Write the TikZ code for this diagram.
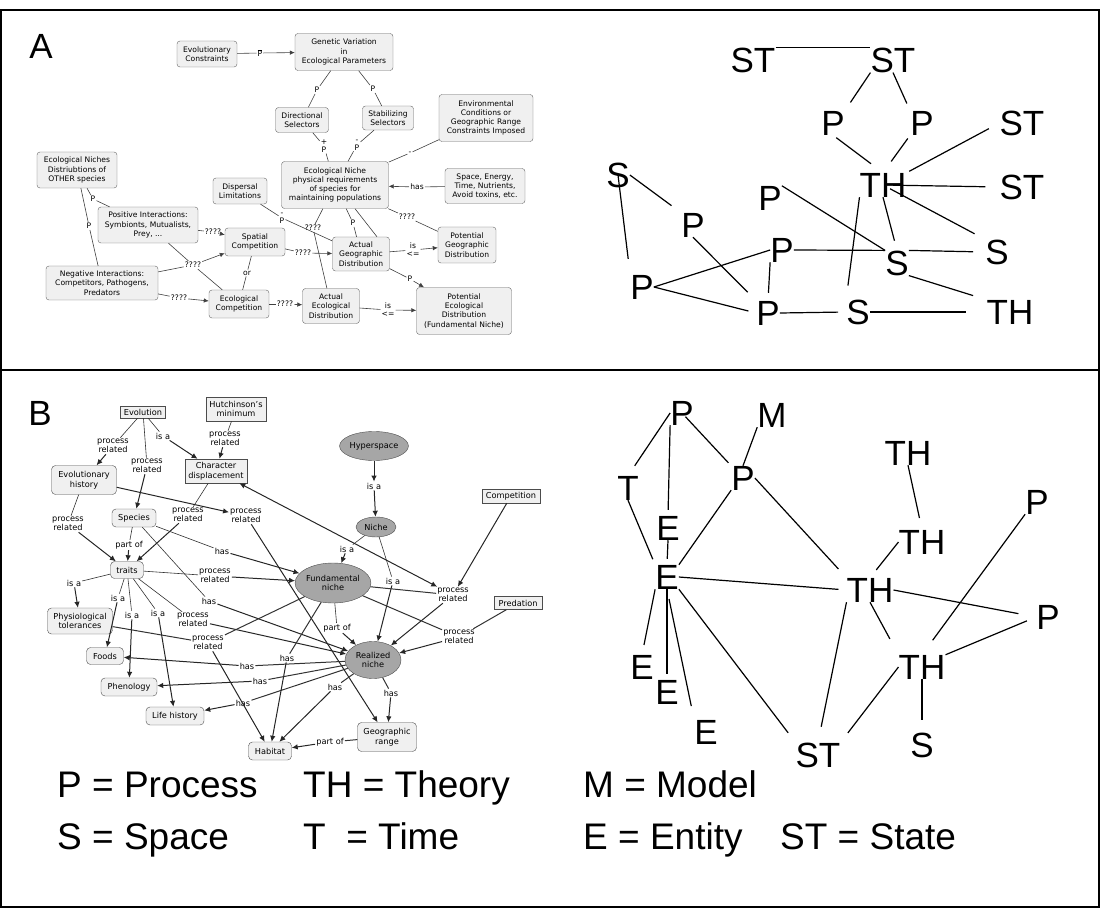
\documentclass[tikz,border=0pt]{standalone}
\usepackage{fontspec}
\setmainfont{DejaVu Sans}
\newfontfamily\letterfont{Liberation Sans}
\usetikzlibrary{arrows.meta,shapes.geometric}

\tikzset{
	abox/.style={draw=black!60, fill=black!6, rounded corners=3pt, align=center, inner sep=1.5pt, font=\fontsize{7.6}{9.2}\selectfont},
	alabel/.style={align=center, inner sep=1pt, font=\fontsize{7.6}{8}\selectfont},
	alink/.style={draw=black!75, line width=0.6pt},
	aarrow/.style={draw=black!75, line width=0.6pt, -{Latex[length=5pt,width=4.5pt]}},
	brect/.style={draw=black!70, fill=black!6, align=center, inner sep=1.5pt, font=\fontsize{8.2}{9.6}\selectfont},
	bbox/.style={brect, rounded corners=4pt},
	bell/.style={ellipse, draw=black!70, fill=black!35, align=center, inner sep=0pt, font=\fontsize{8.2}{9.6}\selectfont},
	blabel/.style={align=center, inner sep=1pt, font=\fontsize{8.2}{9.4}\selectfont},
	blink/.style={draw=black!80, line width=0.6pt},
	barrow/.style={draw=black!85, line width=1pt, -{Latex[length=6pt,width=5.5pt]}},
	glet/.style={inner sep=0pt, font=\letterfont\fontsize{35}{35}\selectfont},
	gline/.style={line width=1.2pt},
	legend/.style={anchor=base west, inner sep=0pt, font=\letterfont\fontsize{37}{37}\selectfont}
}

\begin{document}
\begin{tikzpicture}[x=1pt, y=-1pt]
	\useasboundingbox (0,0) rectangle (1100,909);
	\draw[line width=1.4pt] (1,10) rectangle (1099,907);
	\draw[line width=1.4pt] (1,370) -- (1099,370);

	\node[glet] (panelA) at (41,46) {A};
	\node[glet] (panelB) at (40,413) {B};

	% map A
	\node[abox, minimum width=60, minimum height=26] (evc) at (207,54) {Evolutionary\\Constraints};
	\node[abox, minimum width=98, minimum height=37] (gen) at (344,52) {Genetic Variation\\in\\Ecological Parameters};
	\node[abox, minimum width=53, minimum height=25] (dir) at (302,120) {Directional\\Selectors};
	\node[abox, minimum width=51, minimum height=24] (stab) at (388,118) {Stabilizing\\Selectors};
	\node[abox, minimum width=94, minimum height=47] (env) at (486,118) {Environmental\\Conditions or\\Geographic Range\\Constraints Imposed};
	\node[abox, minimum width=107, minimum height=47] (eco) at (335,185) {Ecological Niche\\physical requirements\\of species for\\maintaining populations};
	\node[abox, minimum width=80, minimum height=35] (spc) at (485,186) {Space, Energy,\\Time, Nutrients,\\Avoid toxins, etc.};
	\node[abox, minimum width=54, minimum height=26] (disp) at (240,191) {Dispersal\\Limitations};
	\node[abox, minimum width=80, minimum height=36] (oth) at (77,170) {Ecological Niches\\Distriubtions of\\OTHER species};
	\node[abox, minimum width=100, minimum height=36] (pos) at (148,225) {Positive Interactions:\\Symbionts, Mutualists,\\Prey, ...};
	\node[abox, minimum width=112, minimum height=34] (neg) at (102,283) {Negative Interactions:\\Competitors, Pathogens,\\Predators};
	\node[abox, minimum width=60, minimum height=28] (spat) at (255,242) {Spatial\\Competition};
	\node[abox, minimum width=60, minimum height=28] (ecomp) at (239,304) {Ecological\\Competition};
	\node[abox, minimum width=57, minimum height=34] (agd) at (361,254) {Actual\\Geographic\\Distribution};
	\node[abox, minimum width=58, minimum height=36] (pgd) at (467,245) {Potential\\Geographic\\Distribution};
	\node[abox, minimum width=57, minimum height=35] (aed) at (331,306) {Actual\\Ecological\\Distribution};
	\node[abox, minimum width=95, minimum height=47] (ped) at (464,311) {Potential\\Ecological\\Distribution\\(Fundamental Niche)};

	\node[alabel] (a1) at (260,53) {$\overline{\mbox{P}}$};
	\node[alabel] (a2) at (317,90) {P};
	\node[alabel] (a3) at (373,89) {P};
	\node[alabel] (a4) at (324,146) {+\\P};
	\node[alabel] (a5) at (357,145) {-\\P};
	\node[alabel] (a6) at (410,153) {-};
	\node[alabel] (a7) at (417,187) {has};
	\node[alabel] (a8) at (93,199) {P};
	\node[alabel] (a9) at (89,226) {P};
	\node[alabel] (a10) at (213,232) {????};
	\node[alabel] (a11) at (193,265) {????};
	\node[alabel] (a12) at (247,273) {or};
	\node[alabel] (a13) at (179,298) {????};
	\node[alabel] (a14) at (285,304) {????};
	\node[alabel] (a15) at (303,253) {????};
	\node[alabel] (a16) at (282,218) {-\\P};
	\node[alabel] (a17) at (313,228) {????};
	\node[alabel] (a18) at (353,223) {P};
	\node[alabel] (a19) at (407,217) {????};
	\node[alabel] (a20) at (413,250) {is\\<=};
	\node[alabel] (a21) at (410,279) {P};
	\node[alabel] (a22) at (388,310) {is\\<=};

	\draw[alink] (evc) -- (a1);
	\draw[aarrow] (a1) -- (gen);
	\draw[alink] (gen) -- (a2) -- (dir);
	\draw[alink] (gen) -- (a3) -- (stab);
	\draw[alink] (dir) -- (a4) -- (eco);
	\draw[alink] (stab) -- (a5) -- (eco);
	\draw[alink] (env) -- (a6) -- (eco);
	\draw[alink] (spc) -- (a7);
	\draw[aarrow] (a7) -- (eco);
	\draw[alink] (oth) -- (a8) -- (pos);
	\draw[alink] (oth) -- (a9) -- (neg);
	\draw[alink] (pos) -- (a10);
	\draw[aarrow] (a10) -- (spat);
	\draw[alink] (neg) -- (a11);
	\draw[aarrow] (a11) -- (spat);
	\draw[alink] (pos) -- (a11) -- (ecomp);
	\draw[alink] (spat) -- (a12) -- (ecomp);
	\draw[alink] (neg) -- (a13);
	\draw[aarrow] (a13) -- (ecomp);
	\draw[alink] (ecomp) -- (a14);
	\draw[aarrow] (a14) -- (aed);
	\draw[alink] (spat) -- (a15);
	\draw[aarrow] (a15) -- (agd);
	\draw[alink] (disp) -- (a16) -- (agd);
	\draw[alink] (eco) -- (a17) -- (aed);
	\draw[alink] (eco) -- (a18) -- (agd);
	\draw[alink] ([xshift=20pt]eco.south) -- ([xshift=16pt]agd.north);
	\draw[alink] (eco) -- (a19) -- (pgd);
	\draw[alink] (agd) -- (a20);
	\draw[aarrow] (a20) -- (pgd);
	\draw[alink] (agd) -- (a21);
	\draw[aarrow] (a21) -- (ped);
	\draw[alink] (aed) -- (a22);
	\draw[aarrow] (a22) -- (ped);

	% graph A
	\node[glet] (ST1) at (753,60) {ST};
	\node[glet] (ST2) at (893,60) {ST};
	\node[glet] (P1) at (833,123) {P};
	\node[glet] (P2) at (922,123) {P};
	\node[glet] (ST3) at (1022,123) {ST};
	\node[glet] (TH1) at (883,185) {TH};
	\node[glet] (ST4) at (1022,187) {ST};
	\node[glet] (S1) at (618,175) {S};
	\node[glet] (P3) at (693,225) {P};
	\node[glet] (P4) at (770,198) {P};
	\node[glet] (P5) at (782,250) {P};
	\node[glet] (S2) at (897,263) {S};
	\node[glet] (S3) at (997,252) {S};
	\node[glet] (P6) at (642,287) {P};
	\node[glet] (P7) at (768,313) {P};
	\node[glet] (S4) at (858,312) {S};
	\node[glet] (TH2) at (1010,312) {TH};

	\draw[gline] (ST1.north east) -- (ST2.north west);
	\draw[gline, shorten >=10pt] (ST2.south west) -- (P1.north east);
	\draw[gline, shorten >=8pt] (ST2.south) -- (P2.north west);
	\draw[gline, shorten <=4pt, shorten >=15pt] (P1.south) -- (TH1.north);
	\draw[gline, shorten <=4pt, shorten >=14pt] (P2.south west) -- (TH1.north);
	\draw[gline, shorten <=12pt, shorten >=3pt] (ST3.west) -- (TH1.north east);
	\draw[gline, shorten <=10pt, shorten >=14pt] (TH1.center) -- (ST4.west);
	\draw[gline, shorten <=8pt, shorten >=12pt] (TH1.center) -- (S3.north west);
	\draw[gline, shorten >=10pt] (TH1.south) -- (S2.north);
	\draw[gline, shorten >=14pt] (TH1.south west) -- (S4.north west);
	\draw[gline, shorten >=16pt] (S1.center) -- (P6.north west);
	\draw[gline, shorten >=12pt] (S1.east) -- (P3.north west);
	\draw[gline] (P4.north east) -- (S2.north west);
	\draw[gline] (P5.east) -- (S2.north west);
	\draw[gline, shorten >=12pt] (S2.north east) -- (S3.west);
	\draw[gline, shorten >=14pt] (S2.south east) -- (TH2.north west);
	\draw[gline, shorten >=12pt] (P3.south) -- (P7.north west);
	\draw[gline] (P6.east) -- (P5.west);
	\draw[gline, shorten >=8pt] (P6.east) -- (P7.west);
	\draw[gline, shorten >=8pt] (P5.south west) -- (P7.north);
	\draw[gline, shorten >=8pt] (P7.east) -- (S4.west);
	\draw[gline, shorten >=20pt] (S4.east) -- (TH2.west);

	% map B
	\node[brect, minimum width=45, minimum height=12] (evo) at (143,412) {Evolution};
	\node[brect, minimum width=60, minimum height=24] (hut) at (236,409) {Hutchinson's\\minimum};
	\node[bbox, minimum width=65, minimum height=29] (evh) at (84,480) {Evolutionary\\history};
	\node[brect, minimum width=62, minimum height=24] (chd) at (216,471) {Character\\displacement};
	\node[bbox, minimum width=44, minimum height=18] (spe) at (134,518) {Species};
	\node[bbox, minimum width=33, minimum height=17] (tra) at (127,570) {traits};
	\node[bbox, minimum width=65, minimum height=26] (phy) at (80,621) {Physiological\\tolerances};
	\node[bbox, minimum width=37, minimum height=17] (foo) at (105,656) {Foods};
	\node[bbox, minimum width=56, minimum height=18] (phe) at (129,687) {Phenology};
	\node[bbox, minimum width=58, minimum height=18] (lif) at (175,716) {Life history};
	\node[bbox, minimum width=43, minimum height=18] (hab) at (270,751) {Habitat};
	\node[bbox, minimum width=59, minimum height=29] (geo) at (387,737) {Geographic\\range};
	\node[bell, minimum width=64, minimum height=29] (hyp) at (374,446) {Hyperspace};
	\node[bell, minimum width=40, minimum height=20] (nic) at (376,527) {Niche};
	\node[bell, minimum width=74, minimum height=40] (fun) at (333,583) {Fundamental\\niche};
	\node[bell, minimum width=56, minimum height=37] (rea) at (373,660) {Realized\\niche};
	\node[brect, minimum width=58, minimum height=14] (com) at (511,496) {Competition};
	\node[brect, minimum width=48, minimum height=13] (pre) at (518,603) {Predation};

	\node[blabel] (b1) at (113,446) {process\\related};
	\node[blabel] (b2) at (163,436) {is a};
	\node[blabel] (b3) at (147,466) {process\\related};
	\node[blabel] (b4) at (225,439) {process\\related};
	\node[blabel] (b5) at (68,524) {process\\related};
	\node[blabel] (b6) at (188,515) {process\\related};
	\node[blabel] (b7) at (246,516) {process\\related};
	\node[blabel] (b8) at (129,545) {part of};
	\node[blabel] (b9) at (222,551) {has};
	\node[blabel] (b10) at (215,576) {process\\related};
	\node[blabel] (b11) at (209,601) {has};
	\node[blabel] (b12) at (74,583) {is a};
	\node[blabel] (b13) at (118,598) {is a};
	\node[blabel] (b14) at (132,615) {is a};
	\node[blabel] (b15) at (158,613) {is a};
	\node[blabel] (b16) at (193,620) {process\\related};
	\node[blabel] (b17) at (208,643) {process\\related};
	\node[blabel] (b18) at (247,666) {has};
	\node[blabel] (b19) at (260,681) {has};
	\node[blabel] (b20) at (243,703) {has};
	\node[blabel] (b21) at (287,658) {has};
	\node[blabel] (b22) at (335,687) {has};
	\node[blabel] (b23) at (391,693) {has};
	\node[blabel] (b24) at (330,742) {part of};
	\node[blabel] (b25) at (374,486) {is a};
	\node[blabel] (b26) at (347,549) {is a};
	\node[blabel] (b27) at (393,581) {is a};
	\node[blabel] (b28) at (453,595) {process\\related};
	\node[blabel] (b29) at (459,637) {process\\related};
	\node[blabel] (b30) at (337,628) {part of};

	\draw[blink] (evo) -- (b1);
	\draw[barrow] (b1) -- (evh);
	\draw[blink] (evo) -- (b2);
	\draw[barrow] (b2) -- (chd);
	\draw[blink] (evo) -- (b3);
	\draw[barrow] (b3) -- (spe);
	\draw[blink] (hut) -- (b4);
	\draw[barrow] (b4) -- (chd);
	\draw[blink] (evh) -- (b5);
	\draw[barrow] (b5) -- (tra);
	\draw[blink] (chd) -- (b6);
	\draw[barrow] (b6) -- (tra);
	\draw[barrow] (evh) -- (b7);
	\draw[barrow] (b7) -- (geo);
	\draw[blink] (spe) -- (b8);
	\draw[barrow] (b8) -- (tra);
	\draw[blink] (spe) -- (b9);
	\draw[barrow] (b9) -- (fun);
	\draw[blink] (tra) -- (b10);
	\draw[barrow] (b10) -- (fun);
	\draw[blink] (spe) -- (b11);
	\draw[barrow] (b11) -- (rea);
	\draw[blink] (tra) -- (b12);
	\draw[barrow] (b12) -- (phy);
	\draw[blink] (tra) -- (b13);
	\draw[barrow] (b13) -- (foo);
	\draw[blink] (tra) -- (b14);
	\draw[barrow] (b14) -- (phe);
	\draw[blink] (tra) -- (b15);
	\draw[barrow] (b15) -- (lif);
	\draw[blink] (tra) -- (b16);
	\draw[barrow] (b16) -- (rea);
	\draw[blink, line width=1pt] (phy) -- (b17);
	\draw[blink, line width=1pt] (fun) -- (b17);
	\draw[barrow] (b17) -- (hab);
	\draw[blink, line width=1pt] (rea) -- (b18);
	\draw[barrow] (b18) -- (foo);
	\draw[blink, line width=1pt] (rea) -- (b19);
	\draw[barrow] (b19) -- (phe);
	\draw[blink, line width=1pt] (rea) -- (b20);
	\draw[barrow] (b20) -- (lif);
	\draw[blink, line width=1pt] (fun) -- (b21);
	\draw[barrow] (b21) -- (hab);
	\draw[blink, line width=1pt] (rea) -- (b22);
	\draw[barrow] (b22) -- (hab);
	\draw[blink, line width=1pt] (rea) -- (b23);
	\draw[barrow] (b23) -- (geo);
	\draw[blink, line width=1pt] (geo) -- (b24);
	\draw[barrow] (b24) -- (hab);
	\draw[barrow] (hyp) -- (b25);
	\draw[barrow] (b25) -- (nic);
	\draw[blink] (nic) -- (b26);
	\draw[barrow] (b26) -- (fun);
	\draw[blink] (nic) -- (b27);
	\draw[barrow] (b27) -- (rea);
	\draw[barrow, {Latex[length=6pt,width=5.5pt]}-{Latex[length=6pt,width=5.5pt]}] (chd) -- (b28);
	\draw[barrow] (com) -- (b28);
	\draw[blink, line width=1pt] (fun) -- (b28);
	\draw[barrow] (b28) -- (rea);
	\draw[blink, line width=1pt] (fun) -- (b29);
	\draw[blink, line width=1pt] (pre) -- (b29);
	\draw[barrow] (b29) -- (rea);
	\draw[blink] (fun) -- (b30);
	\draw[barrow] (b30) -- (rea);

	% graph B
	\node[glet] (Pa) at (682,413) {P};
	\node[glet] (M) at (772,415) {M};
	\node[glet] (Pb) at (743,478) {P};
	\node[glet] (T) at (628,488) {T};
	\node[glet] (Ea) at (668,528) {E};
	\node[glet] (Eb) at (667,577) {E};
	\node[glet] (THa) at (908,453) {TH};
	\node[glet] (THb) at (922,542) {TH};
	\node[glet] (THc) at (870,590) {TH};
	\node[glet] (Pc) at (1037,502) {P};
	\node[glet] (Pd) at (1048,617) {P};
	\node[glet] (THd) at (922,667) {TH};
	\node[glet] (Ec) at (642,667) {E};
	\node[glet] (Ed) at (667,692) {E};
	\node[glet] (Ee) at (706,732) {E};
	\node[glet] (STa) at (818,755) {ST};
	\node[glet] (Sa) at (922,745) {S};

	\draw[gline, shorten >=12pt] (Pa.west) -- (T.north);
	\draw[gline, shorten >=6pt] (Pa.south west) -- (Ea.north);
	\draw[gline, shorten <=5pt, shorten >=4pt] (Pa.center) -- (Pb.north west);
	\draw[gline] (M.south west) -- (Pb.north);
	\draw[gline, shorten >=6pt] (T.south) -- (Eb.north west);
	\draw[gline, shorten >=6pt] (Ea.south) -- (Eb.north);
	\draw[gline] (Pb.south west) -- (Eb.north east);
	\draw[gline, shorten >=12pt] (Pb.east) -- (THc.north west);
	\draw[gline, shorten >=12pt] (THa.south) -- (THb.north);
	\draw[gline, shorten >=10pt] (THb.west) -- (THc.north);
	\draw[gline, shorten >=8pt] (Eb.east) -- (THc.west);
	\draw[gline, shorten >=18pt] (THc.east) -- (Pd.west);
	\draw[gline, shorten >=18pt] (THc.south) -- (THd.north west);
	\draw[gline, shorten >=18pt] (Pc.south west) -- (THd.north);
	\draw[gline, shorten <=10pt] (Pd.west) -- (THd.north east);
	\draw[gline, shorten >=12pt] (THd.south) -- (Sa.north);
	\draw[gline, shorten >=12pt] (THd.west) -- (STa.north east);
	\draw[gline, shorten >=16pt] (THc.south west) -- (STa.north);
	\draw[gline, shorten >=12pt] (Eb.south east) -- (STa.north west);
	\draw[gline, shorten >=10pt] (Eb.south west) -- (Ec.north);
	\draw[gline, shorten >=6pt] (Eb.south) -- (Ed.north);
	\draw[gline, shorten <=10pt, shorten >=14pt] (Eb.south) -- (Ee.north west);

	% legend
	\node[legend] (kP) at (57,797) {P = Process};
	\node[legend] (kTH) at (303,797) {TH = Theory};
	\node[legend] (kM) at (583,797) {M = Model};
	\node[legend] (kS) at (57,849) {S = Space};
	\node[legend] (kT) at (303,849) {T\ \ = Time};
	\node[legend] (kE) at (583,849) {E = Entity};
	\node[legend] (kST) at (780,849) {ST = State};
\end{tikzpicture}
\end{document}
